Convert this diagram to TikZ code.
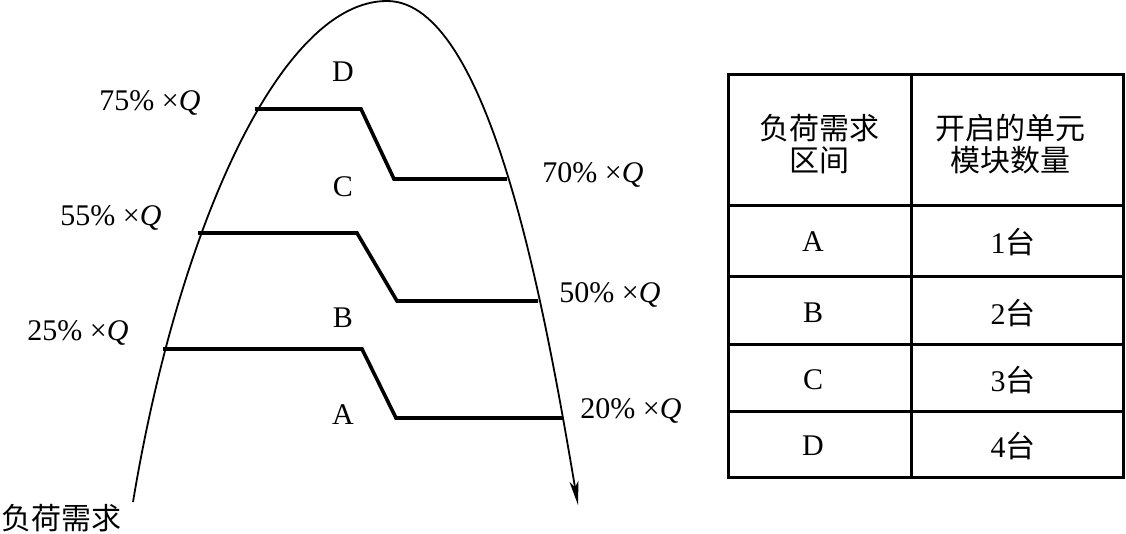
\documentclass[tikz,border=0pt]{standalone}
\usepackage{fontspec}
\setmainfont{Liberation Serif}
\newfontfamily\cjk{Noto Sans CJK SC}
\usetikzlibrary{arrows.meta,positioning}

\begin{document}
\begin{tikzpicture}[
    x=0.5pt, y=-0.5pt,
    txt/.style ={
        font=\fontsize{15}{16}\selectfont,
        inner sep=0pt
    },
    lvl/.style ={
        line width=1.8pt,
        line join=miter
    },
    grid/.style ={
        line width=1.5pt
    }
    ]
    \useasboundingbox (0,0) rectangle (1126,534);

    % load curve
    \coordinate (start) at (133,502);
    \coordinate (peak) at (387,1);
    \coordinate (stop) at (578,505);
    \draw[line width=0.9pt, -{Stealth[length=12pt,width=4.5pt,inset=3pt]}]
        (start) .. controls (178,230) and (280,1) .. (peak)
        .. controls (490,1) and (545,310) .. (stop);
    \node[txt, font=\fontsize{15}{16}\selectfont\cjk] (demand) at (62,518) {负荷需求};

    % switching levels
    \foreach \n/\ya/\xl/\xk/\xb/\yb/\xr in {low/349/163/362/396/418/563, mid/233/198/357/397/301/538, high/109/255/361/394/179/507}
        \draw[lvl] (\xl,\ya) -- (\xk,\ya) -- (\xb,\yb) -- (\xr,\yb);

    \foreach \n/\x/\y/\t in {up25/78/333/25, up55/111/218/55, up75/150/103/75,
        dn20/631/411/20, dn50/610/295/50, dn70/593/175/70}
        \node[txt] (\n) at (\x,\y) {\t\% ×\textit{Q}};

    \foreach \n/\y in {A/415, B/318, C/187, D/72}
        \node[txt] (zone\n) at (343,\y) {\n};

    % table
    \draw[grid] (728,75) rectangle (1123,478);
    \draw[grid] (911,75) -- (911,478);
    \foreach \y in {206, 277, 345, 412}
        \draw[grid] (728,\y) -- (1123,\y);

    \node[txt, font=\fontsize{15}{16}\selectfont\cjk, align=center] (hzone) at (819,144) {负荷需求\\[0pt]区间};
    \node[txt, font=\fontsize{15}{16}\selectfont\cjk, align=center] (hunit) at (1010,144) {开启的单元\\[0pt]模块数量};

    \foreach \z/\k/\y in {A/1/242, B/2/313, C/3/380, D/4/446} {
        \node[txt] (r\z) at (813,\y) {\z};
        \node[txt] (u\z) at (1013,\y) {\k{\cjk 台}};
    }
\end{tikzpicture}
\end{document}
